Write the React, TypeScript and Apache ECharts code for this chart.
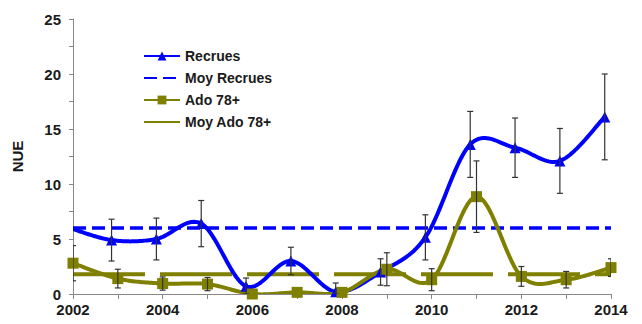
import React, { useEffect, useRef } from "react";
import * as echarts from "echarts";

const years = [2002, 2003, 2004, 2005, 2006, 2007, 2008, 2009, 2010, 2011, 2012, 2013, 2014];
const recrues = [6.1, 4.9, 5.0, 6.4, 0.7, 3.0, 0.2, 2.0, 5.15, 13.6, 13.3, 12.1, 16.1];
const recruesErr = [0, 1.9, 1.9, 2.1, 0.75, 1.25, 0.8, 1.2, 2.05, 3.0, 2.7, 2.95, 3.9];
const ado = [2.8, 1.4, 0.95, 0.9, 0.0, 0.15, 0.15, 2.25, 1.3, 8.85, 1.6, 1.3, 2.4];
const adoErr = [1.6, 0.85, 0.6, 0.6, 0, 0, 0, 1.5, 1.0, 3.25, 0.9, 0.75, 0.8];
const recruesMean = 6.0;
const adoMean = 1.8;
const recruesShift = -0.14;

const BLUE = "#0000ff";
const OLIVE = "#7f7f00";
const FONT = "'Liberation Sans', Arial, sans-serif";

function smoothCurve(api: any, pts: number[][], color: string) {
  const p = pts.map((d) => api.coord(d));
  const out: number[][] = [];
  const n = p.length;
  for (let i = 0; i < n - 1; i++) {
    const p0 = p[Math.max(0, i - 1)];
    const p1 = p[i];
    const p2 = p[i + 1];
    const p3 = p[Math.min(n - 1, i + 2)];
    const c1 = [p1[0] + (p2[0] - p0[0]) / 6, p1[1] + (p2[1] - p0[1]) / 6];
    const c2 = [p2[0] - (p3[0] - p1[0]) / 6, p2[1] - (p3[1] - p1[1]) / 6];
    const steps = 24;
    for (let s = i === 0 ? 0 : 1; s <= steps; s++) {
      const t = s / steps;
      const u = 1 - t;
      const a = u * u * u, b = 3 * u * u * t, c = 3 * u * t * t, d = t * t * t;
      out.push([
        a * p1[0] + b * c1[0] + c * c2[0] + d * p2[0],
        a * p1[1] + b * c1[1] + c * c2[1] + d * p2[1],
      ]);
    }
  }
  return {
    type: "polyline",
    shape: { points: out },
    style: { stroke: color, lineWidth: 4, fill: "none", lineJoin: "round", lineCap: "round" },
  };
}

export default function App() {
  const ref = useRef<HTMLDivElement>(null);
  useEffect(() => {
    if (!ref.current) return;
    const chart = echarts.init(ref.current, null, { renderer: "svg" });
    const bluePts = years.map((y, i) => [y + recruesShift, recrues[i]]);
    const olivePts = years.map((y, i) => [y, ado[i]]);
    const errData: number[][] = [];
    years.forEach((y, i) => {
      if (recruesErr[i] > 0) errData.push([y + recruesShift, Math.max(0, recrues[i] - recruesErr[i]), recrues[i] + recruesErr[i]]);
      if (adoErr[i] > 0) errData.push([y, Math.max(0, ado[i] - adoErr[i]), ado[i] + adoErr[i]]);
    });
    const curveSeries = (pts: number[][], color: string, z: number) => ({
      type: "custom",
      data: pts,
      clip: true,
      silent: true,
      z,
      encode: { x: 0, y: 1 },
      renderItem: (params: any, api: any) =>
        params.dataIndex === 0 ? smoothCurve(api, pts, color) : null,
    });
    chart.setOption({
      animation: false,
      grid: { left: 73, right: 31, top: 19, bottom: 30 },
      legend: {
        orient: "vertical",
        left: 138,
        top: 44,
        itemWidth: 36,
        itemHeight: 11,
        itemGap: 8,
        textStyle: { fontFamily: FONT, fontWeight: "bold", fontSize: 14, color: "#1a1a1a" },
        data: [
          { name: "Recrues", lineStyle: { opacity: 1 } },
          { name: "Moy Recrues", itemStyle: { opacity: 0 } },
          { name: "Ado 78+", lineStyle: { opacity: 1 } },
          { name: "Moy Ado 78+", itemStyle: { opacity: 0 }, lineStyle: { type: "solid" } },
        ],
      },
      xAxis: {
        type: "value",
        min: 2002,
        max: 2014,
        interval: 1,
        axisLine: { show: true, lineStyle: { color: "#888888", width: 1 } },
        axisTick: { show: true, length: 5, lineStyle: { color: "#888888" } },
        splitLine: { show: false },
        axisLabel: {
          margin: 8,
          fontFamily: FONT,
          fontWeight: "bold",
          fontSize: 15,
          color: "#1a1a1a",
          formatter: (v: number) => (v % 2 === 0 ? String(v) : ""),
        },
      },
      yAxis: {
        type: "value",
        min: 0,
        max: 25,
        interval: 2.5,
        name: "NUE",
        nameLocation: "middle",
        nameGap: 48,
        nameRotate: 90,
        nameTextStyle: { fontFamily: FONT, fontWeight: "bold", fontSize: 15, color: "#1a1a1a" },
        axisLine: { show: true, lineStyle: { color: "#888888", width: 1 } },
        axisTick: { show: true, length: 4, lineStyle: { color: "#888888" } },
        splitLine: { show: false },
        axisLabel: {
          margin: 12,
          fontFamily: FONT,
          fontWeight: "bold",
          fontSize: 15,
          color: "#1a1a1a",
          formatter: (v: number) => (v % 5 === 0 ? String(v) : ""),
        },
      },
      series: [
        {
          name: "Moy Recrues",
          type: "line",
          data: [[2002, recruesMean], [2014, recruesMean]],
          symbol: "none",
          lineStyle: { color: BLUE, width: 3.5, type: [13, 6] },
          itemStyle: { color: BLUE },
          z: 2,
        },
        {
          name: "Moy Ado 78+",
          type: "line",
          data: [[2002, adoMean], [2014, adoMean]],
          symbol: "none",
          lineStyle: { color: OLIVE, width: 4, type: [72, 15] },
          itemStyle: { color: OLIVE },
          z: 2,
        },
        curveSeries(bluePts, BLUE, 3),
        curveSeries(olivePts, OLIVE, 3),
        {
          name: "Recrues",
          type: "line",
          data: bluePts,
          clip: true,
          symbol: "triangle",
          symbolSize: 11,
          lineStyle: { color: BLUE, width: 4, opacity: 0 },
          itemStyle: { color: BLUE },
          z: 4,
        },
        {
          name: "Ado 78+",
          type: "line",
          data: olivePts,
          clip: true,
          symbol: "rect",
          symbolSize: 11,
          lineStyle: { color: OLIVE, width: 4, opacity: 0 },
          itemStyle: { color: OLIVE },
          z: 4,
        },
        {
          name: "err",
          type: "custom",
          data: errData,
          clip: true,
          z: 5,
          renderItem: (params: any, api: any) => {
            const x = api.value(0);
            const hi = api.coord([x, api.value(2)]);
            const lo = api.coord([x, api.value(1)]);
            const w = 3;
            const st = { stroke: "#333333", lineWidth: 1.2 };
            return {
              type: "group",
              children: [
                { type: "line", shape: { x1: hi[0], y1: hi[1], x2: lo[0], y2: lo[1] }, style: st },
                { type: "line", shape: { x1: hi[0] - w, y1: hi[1], x2: hi[0] + w, y2: hi[1] }, style: st },
                { type: "line", shape: { x1: lo[0] - w, y1: lo[1], x2: lo[0] + w, y2: lo[1] }, style: st },
              ],
            };
          },
          encode: { x: 0, y: [1, 2] },
        },
      ],
    });
    return () => chart.dispose();
  }, []);
  return (
    <div
      ref={ref}
      style={{ position: "fixed", left: 0, top: 0, width: 642, height: 324, background: "#fff" }}
    />
  );
}
